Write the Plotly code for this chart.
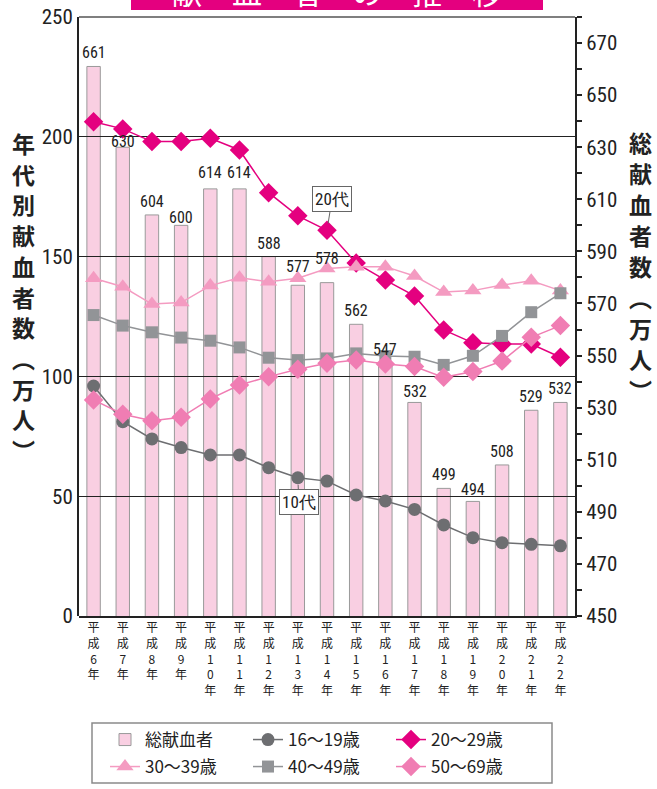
import plotly.graph_objects as go

# ---------------- data ----------------
years = ["平成6年", "平成7年", "平成8年", "平成9年", "平成10年", "平成11年", "平成12年",
         "平成13年", "平成14年", "平成15年", "平成16年", "平成17年", "平成18年",
         "平成19年", "平成20年", "平成21年", "平成22年"]
total = [661, 630, 604, 600, 614, 614, 588, 577, 578, 562, 547, 532, 499, 494, 508, 529, 532]
age16_19 = [96.0, 81.1, 73.9, 70.3, 67.2, 67.2, 61.9, 57.7, 56.3, 50.5, 48.0, 44.5, 38.0, 32.7, 30.6, 29.9, 29.3]
age20_29 = [206.3, 203.3, 198.0, 198.0, 199.4, 194.5, 176.7, 167.0, 161.0, 147.3, 140.2, 133.6, 119.4, 114.0, 113.5, 113.5, 108.0]
age30_39 = [141.0, 137.4, 130.2, 130.8, 137.9, 141.2, 139.5, 141.0, 145.0, 145.8, 145.8, 141.9, 135.2, 135.8, 138.1, 139.9, 135.8]
age40_49 = [125.6, 121.2, 118.4, 116.2, 114.9, 112.1, 107.8, 106.8, 107.5, 109.6, 108.5, 108.2, 104.8, 108.6, 116.9, 126.8, 134.7]
age50_69 = [90.2, 84.2, 81.5, 82.9, 90.6, 96.4, 99.9, 103.0, 105.5, 106.8, 105.2, 104.1, 99.6, 102.0, 106.4, 116.3, 121.2]

left_ticks = [0, 50, 100, 150, 200, 250]
right_ticks = list(range(450, 671, 20))
right_minor = list(range(460, 681, 20))

# style: pixel shift of each value label above its bar top (default / per-bar overrides)
LABEL_SHIFT = 3
LABEL_SHIFT_OVERRIDE = {1: -5, 3: -3, 4: 6, 5: 6, 7: 8, 8: 14, 11: 0, 13: 1}

W, H = 657, 789
ML, MR, MT, MB = 79, 82, 17, 173
PW, PH = W - ML - MR, H - MT - MB

def px_x(px):
    return (px - ML) / PW

def px_y(py):
    return (H - MB - py) / PH

CJK = "Noto Sans CJK JP, Noto Sans, sans-serif"
NARROW = "Roboto Condensed, DejaVu Sans Condensed, Roboto, sans-serif"

xlabels = ["<br>".join(list(y)) for y in years]

fig = go.Figure()

# bars: total donors on the right axis (primary y, drawn below the lines)
fig.add_trace(go.Bar(
    x=xlabels, y=total, name="総献血者", yaxis="y", xaxis="x",
    marker=dict(color="#F9CFE2", line=dict(color="#9a9a9a", width=1)),
    width=0.46, legend="legend",
))

line_specs = [
    ("16〜19歳", age16_19, "#6d6e71", "circle", 13, "legend"),
    ("20〜29歳", age20_29, "#e4007f", "diamond", 15, "legend"),
    ("30〜39歳", age30_39, "#f49bc1", "triangle-up", 15, "legend2"),
    ("40〜49歳", age40_49, "#929497", "square", 12, "legend2"),
    ("50〜69歳", age50_69, "#f07db3", "diamond", 15, "legend2"),
]
for name, vals, col, sym, sz, leg in line_specs:
    fig.add_trace(go.Scatter(
        x=xlabels, y=vals, name=name, xaxis="x", yaxis="y2", mode="lines+markers",
        line=dict(color=col, width=1.5),
        marker=dict(symbol=sym, size=sz, color=col),
        cliponaxis=False, legend=leg,
    ))

legend_common = dict(
    orientation="h", xanchor="left", yanchor="middle",
    xref="paper", yref="paper",
    borderwidth=0, bgcolor="rgba(0,0,0,0)",
    font=dict(family=CJK, size=17, color="#222"),
    entrywidth=98, entrywidthmode="pixels", traceorder="normal",
)

fig.update_layout(
    width=W, height=H, autosize=False,
    margin=dict(l=ML, r=MR, t=MT, b=MB, autoexpand=False),
    paper_bgcolor="white", plot_bgcolor="rgba(0,0,0,0)",
    font=dict(family=CJK, color="#222"),
    xaxis=dict(
        type="category", showgrid=False, showline=True, linecolor="#222", linewidth=2,
        ticks="", tickfont=dict(family=CJK, size=12, color="#222"), tickangle=0,
        range=[-0.5, len(years) - 0.5], fixedrange=True, automargin=False,
    ),
    yaxis=dict(
        side="right", range=[450, 680], tickvals=right_ticks,
        showgrid=False, showline=True, linecolor="#222", linewidth=2,
        ticks="outside", ticklen=5, tickwidth=2, tickcolor="#222",
        minor=dict(tickvals=right_minor, ticks="outside", ticklen=5, tickwidth=2, tickcolor="#222"),
        tickfont=dict(family=NARROW, size=21, color="#222"), zeroline=False, automargin=False,
    ),
    yaxis2=dict(
        side="left", anchor="x", range=[0, 250], tickvals=left_ticks,
        showgrid=True, gridcolor="#222", gridwidth=1,
        showline=True, linecolor="#222", linewidth=2, ticks="",
        tickfont=dict(family=NARROW, size=21, color="#222"), zeroline=False, automargin=False,
    ),
    showlegend=True,
    legend=dict(legend_common, x=px_x(105), y=px_y(740)),
    legend2=dict(legend_common, x=px_x(105), y=px_y(767)),
)

shapes = []
# thin top frame line
shapes.append(dict(type="line", xref="paper", yref="paper", x0=0, x1=1, y0=1, y1=1,
                   line=dict(color="#555", width=1.5)))
# legend frame
shapes.append(dict(type="rect", xref="paper", yref="paper",
                   x0=px_x(92), x1=px_x(552), y0=px_y(783), y1=px_y(723),
                   line=dict(color="#8a8a8a", width=1.5), fillcolor="rgba(0,0,0,0)"))
# title banner (cut off at top)
shapes.append(dict(type="rect", xref="paper", yref="paper",
                   x0=px_x(131), x1=px_x(543), y0=px_y(10), y1=px_y(-20),
                   fillcolor="#e4007f", line=dict(width=0)))
fig.update_layout(shapes=shapes)

ann = []
ann.append(dict(text="献　血　者　の　推　移", xref="paper", yref="paper",
                x=px_x(337), y=px_y(15), xanchor="center", yanchor="bottom",
                showarrow=False, font=dict(family=CJK, size=30, color="white")))

# value labels above the bars
for i, v in enumerate(total):
    shift = LABEL_SHIFT_OVERRIDE.get(i, LABEL_SHIFT)
    ann.append(dict(text=str(v), x=xlabels[i], y=v, xref="x", yref="y",
                    xanchor="center", yanchor="bottom", yshift=shift, showarrow=False,
                    borderpad=0, font=dict(family=NARROW, size=16, color="#222")))

left_title = list("年代別献血者数") + ["︵", "万", "人", "︶"]
for i, ch in enumerate(left_title):
    ann.append(dict(text="<b>" + ch + "</b>", xref="paper", yref="paper",
                    x=px_x(23), y=px_y(143 + i * 30.7), xanchor="center", yanchor="middle",
                    showarrow=False, borderpad=0, font=dict(family=CJK, size=23, color="#222")))
right_title = list("総献血者数") + ["︵", "万", "人", "︶"]
for i, ch in enumerate(right_title):
    ann.append(dict(text="<b>" + ch + "</b>", xref="paper", yref="paper",
                    x=px_x(640), y=px_y(142 + i * 31), xanchor="center", yanchor="middle",
                    showarrow=False, borderpad=0, font=dict(family=CJK, size=23, color="#222")))

# callouts
ann.append(dict(text="20代", x=xlabels[8], y=age20_29[8], xref="x", yref="y2",
                ax=5, ay=-31, showarrow=True, arrowhead=0, arrowwidth=1, arrowcolor="#666",
                standoff=7, bgcolor="white", bordercolor="#666", borderwidth=1, borderpad=2,
                font=dict(family=NARROW, size=17, color="#222")))
ann.append(dict(text="10代", x=xlabels[7], y=age16_19[7], xref="x", yref="y2",
                ax=1, ay=24, showarrow=True, arrowhead=0, arrowwidth=1, arrowcolor="#666",
                standoff=7, bgcolor="white", bordercolor="#666", borderwidth=1, borderpad=2,
                font=dict(family=NARROW, size=17, color="#222")))
fig.update_layout(annotations=ann)

fig.write_html("out.html")
